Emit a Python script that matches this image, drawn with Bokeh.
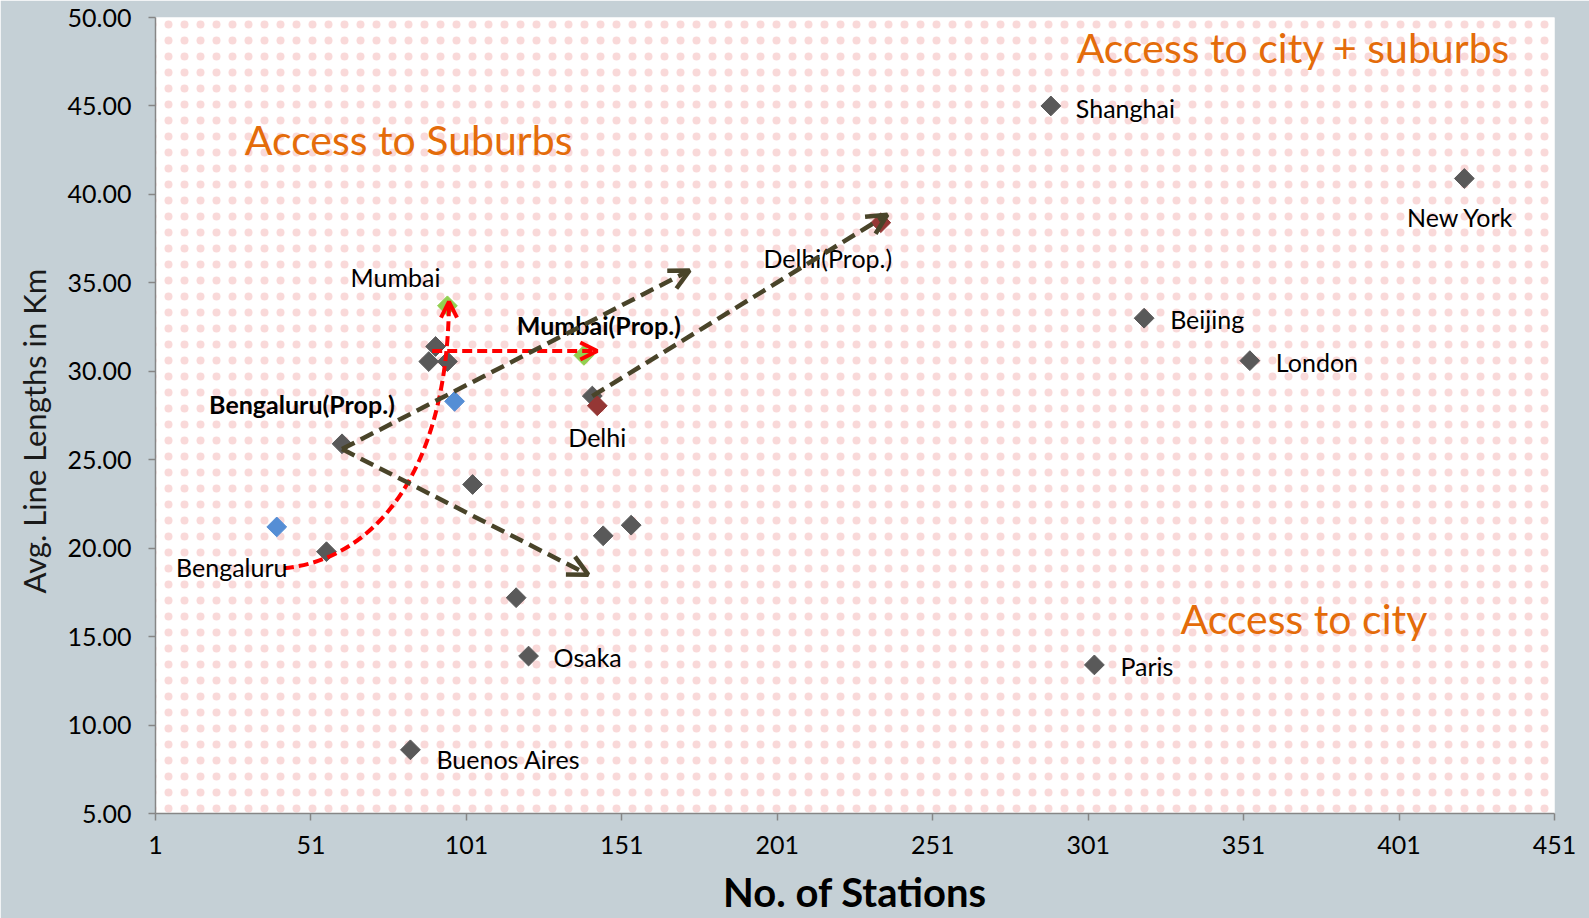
import math
from bokeh.plotting import figure
from bokeh.models import (Range1d, FixedTicker, PrintfTickFormatter, ColumnDataSource,
                          Arrow, OpenHead, BoxAnnotation, Title)
from bokeh.embed import file_html
from bokeh.resources import INLINE
from bokeh.core.properties import value

# ---------------- data ----------------
x_ticks = [1, 51, 101, 151, 201, 251, 301, 351, 401, 451]
y_ticks = [5, 10, 15, 20, 25, 30, 35, 40, 45, 50]

# grey series (existing metros)
gray_x = [289, 422, 319, 353, 303, 121, 83, 141.5, 61, 91.1, 88.9, 94.9, 56, 103, 145, 154, 117]
gray_y = [45.0, 40.9, 33.0, 30.6, 13.4, 13.9, 8.6, 28.6, 25.9, 31.4, 30.55, 30.55, 19.8, 23.6, 20.7, 21.3, 17.2]
# blue series
blue_x = [40, 97.2]
blue_y = [21.2, 28.3]
# green series (Mumbai, Mumbai proposed)
green_x = [94.9, 138.8]
green_y = [33.7, 30.9]
# dark red series (Delhi, Delhi proposed)
red_x = [143.1, 234.3]
red_y = [28.05, 38.4]

# point labels
label_text = ["Shanghai", "New York", "Beijing", "London", "Paris", "Osaka", "Buenos Aires",
              "Delhi", "Delhi(Prop.)", "Mumbai", "Bengaluru"]
label_x = [289, 422, 319, 353, 303, 121, 83, 143.1, 234.3, 94.9, 40]
label_y = [45.0, 40.9, 33.0, 30.6, 13.4, 13.9, 8.6, 28.05, 38.4, 33.7, 21.2]
label_dx = [25, -4, 26, 26, 26, 25, 26, 0, -53, -52, -45]
label_dy = [2, 39, 1, 1, 1, 1, 9, 31, 35, -29, 40]
label_align = ["left", "center", "left", "left", "left", "left", "left",
               "center", "center", "center", "center"]

bold_text = ["Mumbai(Prop.)", "Bengaluru(Prop.)"]
bold_x = [138.8, 61]
bold_y = [30.9, 25.9]
bold_dx = [15, -40]
bold_dy = [-30, -40]

# zone captions
zone_text = ["Access to city + suburbs", "Access to Suburbs", "Access to city"]
zone_x = [297.3, 29.7, 330.7]
zone_y = [48.3, 43.1, 16.0]

# axis titles
xtitle_text = "No. of Stations"
ytitle_text = "Avg. Line Lengths in Km"

# olive dashed arrows (start -> end)
olive_x0 = [61, 61, 141.5]
olive_y0 = [25.6, 25.6, 28.6]
olive_x1 = [172.8, 140.2, 236.4]
olive_y1 = [35.7, 18.5, 38.85]

# red curve Bengaluru -> Mumbai (cubic bezier: start, ctrl0, ctrl1, end)
curve_x = [42.3, 70, 95, 95.4]
curve_y = [18.87, 19.3, 24, 33.94]
# red horizontal arrow Mumbai -> Mumbai(Prop.)
redarrow_x = [90.0, 143.1]
redarrow_y = [31.15, 31.15]

# ---------------- figure ----------------
p = figure(width=1589, height=918, output_backend="svg", toolbar_location=None,
           x_range=Range1d(x_ticks[0], x_ticks[-1]), y_range=Range1d(y_ticks[0], y_ticks[-1]),
           min_border_left=155, min_border_right=35, min_border_top=17, min_border_bottom=104)
p.background_fill_color = "white"
p.border_fill_color = "#c5d0d6"
p.outline_line_color = None
p.grid.visible = False

p.add_layout(BoxAnnotation(fill_alpha=0, line_color=None, hatch_pattern="dot",
                           hatch_color="#ee9a9a", hatch_scale=16, hatch_weight=0.6,
                           hatch_alpha=0.38, level="underlay"))

p.xaxis.ticker = FixedTicker(ticks=x_ticks)
p.yaxis.ticker = FixedTicker(ticks=y_ticks)
p.yaxis.formatter = PrintfTickFormatter(format="%.2f")
for ax in (p.xaxis[0], p.yaxis[0]):
    ax.axis_line_color = "#868686"
    ax.axis_line_width = 1.5
    ax.major_tick_line_color = "#868686"
    ax.major_tick_line_width = 1.5
    ax.major_tick_out = 7
    ax.major_tick_in = 0
    ax.minor_tick_line_color = None
    ax.major_label_text_font = "Lato"
    ax.major_label_text_font_size = "25px"
    ax.major_label_text_color = "#000000"
p.yaxis.major_label_standoff = 17
p.xaxis.major_label_standoff = 15
p.xaxis.axis_label = xtitle_text
p.xaxis.axis_label_text_font = "Lato"
p.xaxis.axis_label_text_font_style = "bold"
p.xaxis.axis_label_text_font_size = "40px"
p.xaxis.axis_label_text_color = "#000000"
p.xaxis.axis_label_standoff = 11

p.add_layout(Title(text=ytitle_text, align="left", offset=220, standoff=20, vertical_align="top",
                   text_font="Lato", text_font_style="normal", text_font_size="31px",
                   text_color="#1a1a1a"), "left")

ang = math.pi / 4
p.scatter(gray_x, gray_y, marker="square", size=14, angle=ang, fill_color="#595959", line_color="#595959")
p.scatter(blue_x, blue_y, marker="square", size=14, angle=ang, fill_color="#558ed5", line_color="#558ed5")
p.scatter(green_x, green_y, marker="square", size=14, angle=ang, fill_color="#92d050", line_color="#92d050")
p.scatter(red_x, red_y, marker="square", size=14, angle=ang, fill_color="#953735", line_color="#953735")

# red curve
p.bezier(x0=[curve_x[0]], y0=[curve_y[0]], x1=[curve_x[3]], y1=[curve_y[3]],
         cx0=[curve_x[1]], cy0=[curve_y[1]], cx1=[curve_x[2]], cy1=[curve_y[2]],
         line_color="#ff0000", line_width=4, line_dash="10 5")
p.add_layout(Arrow(x_start=curve_x[3], y_start=curve_y[3] - 0.3, x_end=curve_x[3], y_end=curve_y[3],
                   line_alpha=0,
                   end=OpenHead(size=16, line_color="#ff0000", line_width=4)))
p.add_layout(Arrow(x_start=redarrow_x[0], y_start=redarrow_y[0], x_end=redarrow_x[1], y_end=redarrow_y[1],
                   line_color="#ff0000", line_width=4, line_dash="10 5",
                   end=OpenHead(size=17, line_color="#ff0000", line_width=4)))

for i in range(len(olive_x0)):
    p.add_layout(Arrow(x_start=olive_x0[i], y_start=olive_y0[i], x_end=olive_x1[i], y_end=olive_y1[i],
                       line_color="#494429", line_width=4.5, line_dash="14 7",
                       end=OpenHead(size=20, line_color="#494429", line_width=4.5)))

src = ColumnDataSource(dict(x=label_x, y=label_y, t=label_text, dx=label_dx, dy=label_dy, a=label_align))
p.text("x", "y", text="t", x_offset="dx", y_offset="dy", text_align="a", text_baseline="middle",
       text_font=value("Lato"), text_font_size="25px", text_color="#000000", source=src)
src2 = ColumnDataSource(dict(x=bold_x, y=bold_y, t=bold_text, dx=bold_dx, dy=bold_dy))
p.text("x", "y", text="t", x_offset="dx", y_offset="dy", text_align="center", text_baseline="middle",
       text_font=value("Lato"), text_font_style="bold", text_font_size="25px", text_color="#000000",
       source=src2)
src3 = ColumnDataSource(dict(x=zone_x, y=zone_y, t=zone_text))
p.text("x", "y", text="t", text_align="left", text_baseline="middle",
       text_font=value("Lato"), text_font_size="41px", text_color="#e46c0a", source=src3)

open("out.html", "w").write(file_html(p, INLINE))
